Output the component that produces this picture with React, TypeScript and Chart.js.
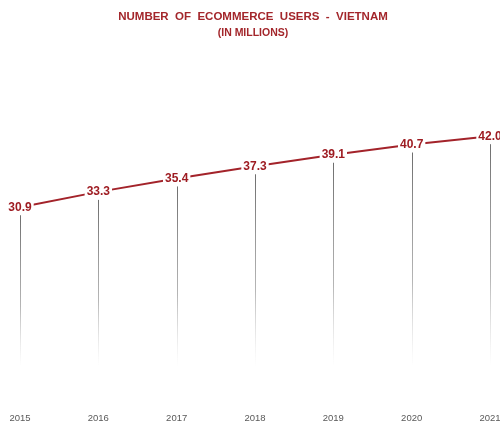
import React, { useEffect, useRef } from "react";
import { Chart, registerables } from "chart.js";

Chart.register(...registerables);

const years = ["2015", "2016", "2017", "2018", "2019", "2020", "2021"];
const users = [30.9, 33.3, 35.4, 37.3, 39.1, 40.7, 42.0];
const titleLines = ["NUMBER  OF  ECOMMERCE  USERS  -  VIETNAM", "(IN MILLIONS)"];
const dropLineEnd = 6;

const RED = "#a3232a";

const overlayPlugin = {
  id: "overlay",
  beforeDatasetsDraw(chart: any) {
    const { ctx } = chart;
    const meta = chart.getDatasetMeta(0);
    const yScale = chart.scales.y;
    const yEnd = yScale.getPixelForValue(dropLineEnd);
    ctx.save();
    meta.data.forEach((pt: any) => {
      const y0 = pt.y + 8;
      const g = ctx.createLinearGradient(0, y0, 0, yEnd);
      g.addColorStop(0, "rgba(110,110,110,1)");
      g.addColorStop(0.6, "rgba(150,150,150,0.7)");
      g.addColorStop(1, "rgba(200,200,200,0)");
      ctx.strokeStyle = g;
      ctx.lineWidth = 1;
      ctx.beginPath();
      ctx.moveTo(Math.round(pt.x) + 0.5, y0);
      ctx.lineTo(Math.round(pt.x) + 0.5, yEnd);
      ctx.stroke();
    });
    ctx.restore();
  },
  afterDatasetsDraw(chart: any) {
    const { ctx } = chart;
    const meta = chart.getDatasetMeta(0);
    ctx.save();
    ctx.font = "bold 12px 'Liberation Sans', Arial, sans-serif";
    ctx.textAlign = "center";
    ctx.textBaseline = "middle";
    meta.data.forEach((pt: any, i: number) => {
      const txt = users[i].toFixed(1);
      const w = ctx.measureText(txt).width;
      ctx.fillStyle = "#ffffff";
      ctx.fillRect(pt.x - w / 2 - 2, pt.y - 6, w + 4, 12);
      ctx.fillStyle = "#9e1c22";
      ctx.fillText(txt, pt.x, pt.y);
    });
    ctx.restore();
  },
  afterDraw(chart: any) {
    const { ctx, width } = chart;
    ctx.save();
    ctx.fillStyle = "#a3262b";
    ctx.textAlign = "center";
    ctx.textBaseline = "middle";
    ctx.font = "bold 11.5px 'Liberation Sans', Arial, sans-serif";
    ctx.fillText(titleLines[0], width / 2 + 3, 17);
    ctx.font = "bold 10.5px 'Liberation Sans', Arial, sans-serif";
    ctx.fillText(titleLines[1], width / 2 + 3, 33);
    ctx.restore();
  },
};

export default function App() {
  const ref = useRef<HTMLCanvasElement>(null);
  useEffect(() => {
    document.body.style.margin = "0";
    const chart = new Chart(ref.current!, {
      type: "line",
      data: {
        labels: years,
        datasets: [
          {
            data: users,
            borderColor: RED,
            borderWidth: 2,
            pointRadius: 0,
            tension: 0,
            fill: false,
          },
        ],
      },
      options: {
        responsive: false,
        animation: false,
        layout: { padding: { left: 20, right: 10, top: 21, bottom: 0 } },
        plugins: { legend: { display: false }, tooltip: { enabled: false }, title: { display: false } },
        scales: {
          x: {
            offset: false,
            grid: { display: false, drawTicks: false },
            border: { display: false },
            ticks: {
              color: "#595959",
              font: { size: 9.5, family: "'Liberation Sans', Arial, sans-serif" },
              padding: 8,
              maxRotation: 0,
              autoSkip: false,
            },
            afterFit(scale: any) {
              scale.height = 18;
              scale.paddingLeft = 0;
              scale.paddingRight = 0;
            },
          },
          y: { display: false, min: 0, max: 60 },
        },
      },
      plugins: [overlayPlugin],
    });
    return () => chart.destroy();
  }, []);
  return (
    <div style={{ width: 500, height: 423, background: "#fff" }}>
      <canvas ref={ref} width={500} height={423} />
    </div>
  );
}
